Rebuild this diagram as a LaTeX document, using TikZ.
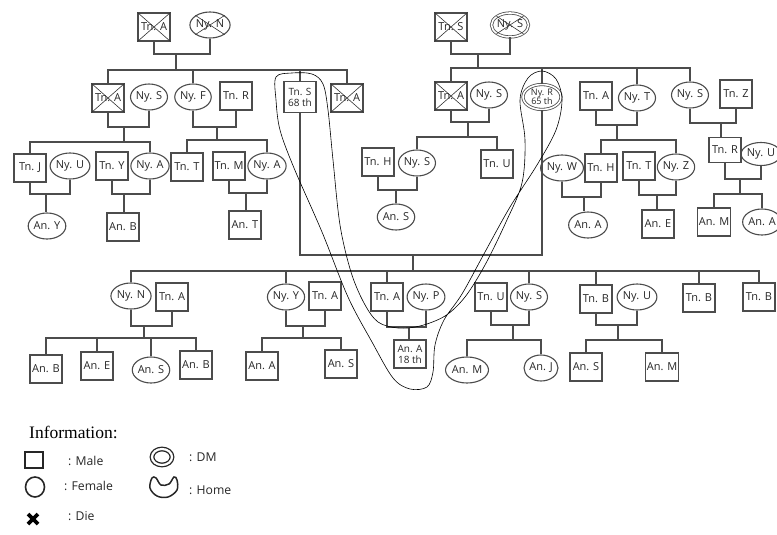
\documentclass[tikz,border=0pt]{standalone}
\usepackage{fontspec}
\setmainfont{Liberation Serif}
\setsansfont{Open Sans}
\usetikzlibrary{shapes.geometric}
\tikzset{
  male/.style={draw=black!70, line width=1.1pt, rectangle, minimum width=32pt, minimum height=28pt, inner sep=1pt},
  female/.style={draw=black!70, line width=1.1pt, ellipse, minimum width=34pt, minimum height=26pt, inner sep=0pt},
  dm/.style={double, double distance=1.6pt, line width=0.8pt, minimum width=36pt, minimum height=24pt},
  link/.style={draw=black!70, line width=1.1pt},
  home/.style={draw=black, line width=0.6pt},
  legend/.style={font=\sffamily\fontsize{12.2}{14}\selectfont, anchor=west, inner sep=0pt, text=black!85}
}
\begin{document}
\begin{tikzpicture}[x=1pt, y=-1pt,
   every node/.style={font=\sffamily\fontsize{11}{12}\selectfont, text=black!85}]
\useasboundingbox (0,0) rectangle (777,535);
\node[male]   (tnA1) at (154,27) {Tn. A};
\node[female] (nyN1) at (210,25) {Ny. N};
\node[male]   (tnS1) at (451,27) {Tn. S};
\node[female, dm] (nyS1) at (510,25) {Ny. S};
\node[male]   (tnA2) at (108,98) {Tn. A};
\node[female] (nyS2) at (149,97) {Ny. S};
\node[female] (nyF2) at (193,97) {Ny. F};
\node[male]   (tnR2) at (236,96) {Tn. R};
\node[male, align=center, minimum height=31pt, font=\sffamily\fontsize{10}{11}\selectfont] (tnS2) at (300,97) {Tn. S\\68 th};
\node[male]   (tnA3) at (347,98) {Tn. A};
\node[male]   (tnA5) at (451,96) {Tn. A};
\node[female] (nyS5) at (489,95) {Ny. S};
\node[female, dm, align=center, minimum width=38pt, minimum height=25pt, font=\sffamily\fontsize{9}{9.5}\selectfont] (nyR5) at (542,97) {Ny. R\\65 th};
\node[male]   (tnA6) at (596,96) {Tn. A};
\node[female] (nyT6) at (637,98) {Ny. T};
\node[female] (nyS7) at (690,95) {Ny. S};
\node[male]   (tnZ7) at (736,94) {Tn. Z};
\node[male]   (tnJ3) at (30,168) {Tn. J};
\node[female] (nyU3) at (70,166) {Ny. U};
\node[male]   (tnY3) at (112,166) {Tn. Y};
\node[female] (nyA3) at (150,166) {Ny. A};
\node[male]   (tnT4) at (187,167) {Tn. T};
\node[male]   (tnM4) at (229,166) {Tn. M};
\node[female] (nyA4) at (267,166) {Ny. A};
\node[male]   (tnH8) at (378,162) {Tn. H};
\node[female] (nyS8) at (417,163) {Ny. S};
\node[male]   (tnU8) at (497,164) {Tn. U};
\node[female] (nyW9) at (562,168) {Ny. W};
\node[male]   (tnH9) at (601,168) {Tn. H};
\node[male]   (tnT9) at (639,166) {Tn. T};
\node[female] (nyZ9) at (676,167) {Ny. Z};
\node[male, minimum height=25pt] (tnR10) at (725,150) {Tn. R};
\node[female, minimum width=29pt, minimum height=23pt] (nyU10) at (761,154) {Ny. U};
\node[female] (anY3) at (47,226) {An. Y};
\node[male]   (anB3) at (123,227) {An. B};
\node[male]   (anT4) at (245,225) {An. T};
\node[female] (anS8) at (396,217) {An. S};
\node[female] (anA9) at (588,225) {An. A};
\node[male]   (anE9) at (658,224) {An. E};
\node[male]   (anM10) at (714,222) {An. M};
\node[female, minimum width=29pt] (anA10) at (762,222) {An. A};
\node[female] (nyN11) at (131,296) {Ny. N};
\node[male]   (tnA11) at (172,297) {Tn. A};
\node[female] (nyY12) at (286,297) {Ny. Y};
\node[male]   (tnA12) at (325,296) {Tn. A};
\node[male]   (tnA13) at (387,297) {Tn. A};
\node[female] (nyP13) at (426,297) {Ny. P};
\node[male]   (tnU14) at (491,297) {Tn. U};
\node[female] (nyS14) at (529,297) {Ny. S};
\node[male]   (tnB15) at (596,299) {Tn. B};
\node[female] (nyU15) at (637,297) {Ny. U};
\node[male]   (tnB16) at (699,298) {Tn. B};
\node[male]   (tnB17) at (759,297) {Tn. B};
\node[male]   (anB11) at (46,369) {An. B};
\node[male]   (anE11) at (97,366) {An. E};
\node[female] (anS11) at (151,370) {An. S};
\node[male]   (anB11b) at (196,365) {An. B};
\node[male]   (anA12) at (262,366) {An. A};
\node[male]   (anS12) at (341,364) {An. S};
\node[male, align=center, font=\sffamily\fontsize{10}{11}\selectfont] (anA13) at (410,354) {An. A\\18 th};
\node[female] (anM14) at (467,370) {An. M};
\node[female] (anJ14) at (541,368) {An. J};
\node[male]   (anS15) at (586,367) {An. S};
\node[male]   (anM15) at (662,367) {An. M};
\foreach \n in {tnA1,nyN1,tnS1,nyS1,tnA2,tnA3,tnA5}
  \draw[black!80, line width=0.6pt] (\n.north west) -- (\n.south east) (\n.north east) -- (\n.south west);
\coordinate (m1) at (176,54);  \coordinate (b1) at (176,70);
\coordinate (m2) at (478,54);  \coordinate (b2) at (478,68);
\coordinate (m3) at (124,127); \coordinate (b3) at (124,142);
\coordinate (m4) at (217,127); \coordinate (b4) at (217,140);
\coordinate (m5) at (468,122); \coordinate (b5) at (468,137);
\coordinate (m6) at (617,125); \coordinate (b6) at (617,140);
\coordinate (m7) at (721,123);
\coordinate (m8) at (46,194);  \coordinate (m9) at (124,194);
\coordinate (m10) at (246,193); \coordinate (m11) at (396,190);
\coordinate (m12) at (584,197); \coordinate (m13) at (657,195);
\coordinate (m14) at (740,179); \coordinate (b14) at (740,194);
\coordinate (h1) at (413,255);  \coordinate (b15) at (413,271);
\coordinate (m16) at (144,326); \coordinate (b16) at (144,338);
\coordinate (m17) at (303,326); \coordinate (b17) at (303,338);
\coordinate (m18) at (409,327);
\coordinate (m19) at (513,325); \coordinate (b19) at (513,340);
\coordinate (m20) at (618,325); \coordinate (b20) at (618,340);
\draw[link] (tnA1.south) |- (m1) -| (nyN1.south) (m1) -- (b1);
\draw[link] (tnA2.north) |- (b1) -| (tnA3.north);
\draw[link] (nyF2.north) -- (nyF2.north |- b1) (tnS2.north) -- (tnS2.north |- b1);
\draw[link] (tnS1.south) |- (m2) -| (nyS1.south) (m2) -- (b2);
\draw[link] (tnA5.north) |- (b2) -| (nyS7.north);
\draw[link] (nyR5.north) -- (nyR5.north |- b2) (nyT6.north) -- (nyT6.north |- b2);
\draw[link] (tnA2.south) |- (m3) -| (nyS2.south) (m3) -- (b3);
\draw[link] (tnJ3.north) |- (b3) -| (nyA3.north);
\draw[link] (nyF2.south) |- (m4) -| (tnR2.south) (m4) -- (b4);
\draw[link] (tnT4.north) |- (b4) -| (nyA4.north);
\draw[link] (tnA5.south) |- (m5) -| (nyS5.south) (m5) -- (b5);
\draw[link] (nyS8.north) |- (b5) -| (tnU8.north);
\draw[link] (tnA6.south) |- (m6) -| (nyT6.south) (m6) -- (b6);
\draw[link] (tnH9.north) |- (b6) -| (nyZ9.north);
\draw[link] (nyS7.south) |- (m7) -| (tnZ7.south) (m7) -- (m7 |- tnR10.north);
\draw[link] (tnJ3.south) |- (m8) -| (nyU3.south) (m8) -- (m8 |- anY3.north);
\draw[link] (tnY3.south) |- (m9) -| (nyA3.south) (m9) -- (m9 |- anB3.north);
\draw[link] (tnM4.south) |- (m10) -| (nyA4.south) (m10) -- (m10 |- anT4.north);
\draw[link] (tnH8.south) |- (m11) -| (nyS8.south) (m11) -- (m11 |- anS8.north);
\draw[link] (nyW9.south) |- (m12) -| (tnH9.south) (m12) -- (m12 |- anA9.north);
\draw[link] (tnT9.south) |- (m13) -| (nyZ9.south) (m13) -- (m13 |- anE9.north);
\draw[link] (tnR10.south) |- (m14) -| (nyU10.south) (m14) -- (b14);
\draw[link] (anM10.north) |- (b14) -| (anA10.north);
\draw[link] (tnS2.south) |- (h1) -| (nyR5.south) (h1) -- (b15);
\draw[link] (nyN11.north) |- (b15) -| (tnB17.north);
\foreach \n in {nyY12,tnA13,nyS14,tnB15,tnB16}
  \draw[link] (\n.north) -- (\n.north |- b15);
\draw[link] (nyN11.south) |- (m16) -| (tnA11.south) (m16) -- (b16);
\draw[link] (anB11.north) |- (b16) -| (anB11b.north);
\draw[link] (anE11.north) -- (anE11.north |- b16) (anS11.north) -- (anS11.north |- b16);
\draw[link] (nyY12.south) |- (m17) -| (tnA12.south) (m17) -- (b17);
\draw[link] (anA12.north) |- (b17) -| (anS12.north);
\draw[link] (tnA13.south) |- (m18) -| (nyP13.south) (m18) -- (m18 |- anA13.north);
\draw[link] (tnU14.south) |- (m19) -| (nyS14.south) (m19) -- (b19);
\draw[link] (anM14.north) |- (b19) -| (anJ14.north);
\draw[link] (tnB15.south) |- (m20) -| (nyU15.south) (m20) -- (b20);
\draw[link] (anS15.north) |- (b20) -| (anM15.north);
\draw[home] plot[smooth cycle, tension=0.55] coordinates {(276,77) (292,73) (312,74) (323,84) (328,110)
  (333,160) (340,225) (351,272) (364,303) (378,322) (398,328) (420,326) (445,316) (465,297) (485,265)
  (506,222) (522,183) (525,140) (520,100) (528,78) (542,71) (556,79) (562,100) (556,130) (537,165)
  (510,207) (485,252) (462,294) (444,320) (435,345) (433,372) (427,387) (410,389) (393,378) (372,342)
  (348,297) (322,232) (294,168) (280,130) (276,100)};
\node[anchor=west, inner sep=0pt, font=\rmfamily\fontsize{17.5}{20}\selectfont, text=black] (info) at (29,432) {Information:};
\node[draw=black!85, line width=1.6pt, minimum width=18pt, minimum height=16pt, inner sep=0pt] (lgMale) at (34,460) {};
\node[legend] (lgMaleT) at (68,461) {: Male};
\node[draw=black!85, ellipse, line width=1.6pt, minimum width=19pt, minimum height=20pt, inner sep=0pt] (lgFemale) at (35,487) {};
\node[legend] (lgFemaleT) at (64,486) {: Female};
\draw[black, line width=3.6pt] (28,514) -- (38,524) (38,514) -- (28,524);
\node[legend] (lgDieT) at (68,516) {: Die};
\node[draw=black!85, ellipse, double, double distance=2.2pt, line width=1.3pt, minimum width=20pt, minimum height=16pt, inner sep=0pt] (lgDM) at (162,457) {};
\node[legend] (lgDMT) at (189,457) {: DM};
\draw[black!85, line width=1.5pt] plot[smooth cycle, tension=0.6] coordinates {(152,478) (150,488) (157,496)
  (168,497) (177,490) (177,480) (174,477) (169,484) (161,485) (156,478)};
\node[legend] (lgHomeT) at (189,490) {: Home};
\end{tikzpicture}
\end{document}
